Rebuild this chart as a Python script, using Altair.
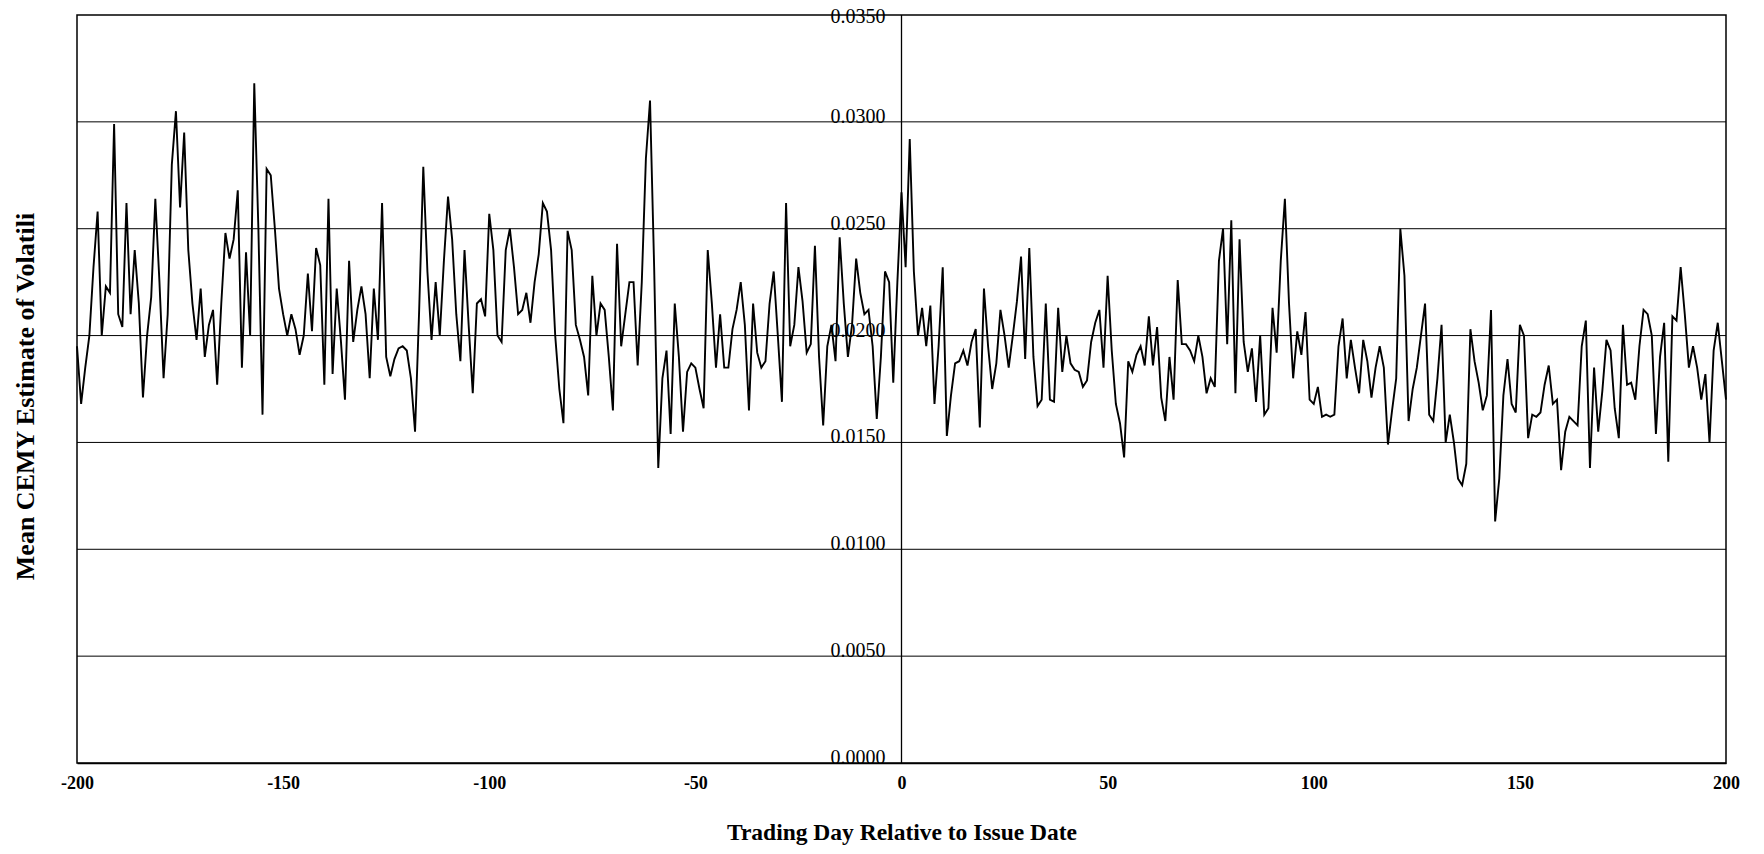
import altair as alt
import pandas as pd

# Mean CEMY volatility estimate, trading days -200..-1 (pre-issue)
pre_issue = [
    0.0195, 0.0168, 0.0185, 0.0200, 0.0232, 0.0258, 0.0200, 0.0223, 0.0220, 0.0299,
    0.0210, 0.0204, 0.0262, 0.0210, 0.0240, 0.0215, 0.0171, 0.0200, 0.0218, 0.0264,
    0.0225, 0.0180, 0.0210, 0.0280, 0.0305, 0.0260, 0.0295, 0.0240, 0.0215, 0.0198,
    0.0222, 0.0190, 0.0205, 0.0212, 0.0177, 0.0215, 0.0248, 0.0236, 0.0245, 0.0268,
    0.0185, 0.0239, 0.0200, 0.0318, 0.0250, 0.0163, 0.0278, 0.0275, 0.0250, 0.0222,
    0.0210, 0.0200, 0.0210, 0.0203, 0.0191, 0.0200, 0.0229, 0.0202, 0.0241, 0.0233,
    0.0177, 0.0264, 0.0182, 0.0222, 0.0198, 0.0170, 0.0235, 0.0197, 0.0212, 0.0223,
    0.0210, 0.0180, 0.0222, 0.0198, 0.0262, 0.0190, 0.0181, 0.0189, 0.0194, 0.0195,
    0.0193, 0.0180, 0.0155, 0.0212, 0.0279, 0.0230, 0.0198, 0.0225, 0.0200, 0.0235,
    0.0265, 0.0245, 0.0210, 0.0188, 0.0240, 0.0205, 0.0173, 0.0215, 0.0217, 0.0209,
    0.0257, 0.0240, 0.0200, 0.0197, 0.0240, 0.0250, 0.0232, 0.0210, 0.0212, 0.0220,
    0.0206, 0.0225, 0.0238, 0.0262, 0.0258, 0.0240, 0.0200, 0.0175, 0.0159, 0.0249,
    0.0240, 0.0205, 0.0198, 0.0190, 0.0172, 0.0228, 0.0200, 0.0215, 0.0212, 0.0190,
    0.0165, 0.0243, 0.0195, 0.0210, 0.0225, 0.0225, 0.0186, 0.0225, 0.0283, 0.0310,
    0.0232, 0.0138, 0.0180, 0.0193, 0.0154, 0.0215, 0.0190, 0.0155, 0.0183, 0.0187,
    0.0185, 0.0175, 0.0166, 0.0240, 0.0215, 0.0185, 0.0210, 0.0185, 0.0185, 0.0203,
    0.0212, 0.0225, 0.0205, 0.0165, 0.0215, 0.0192, 0.0185, 0.0188, 0.0215, 0.0230,
    0.0200, 0.0169, 0.0262, 0.0195, 0.0205, 0.0232, 0.0216, 0.0192, 0.0196, 0.0242,
    0.0190, 0.0158, 0.0195, 0.0205, 0.0188, 0.0246, 0.0215, 0.0190, 0.0205, 0.0236,
    0.0220, 0.0210, 0.0212, 0.0195, 0.0161, 0.0190, 0.0230, 0.0225, 0.0178, 0.0225,
]

# Trading days 0..200 (issue date onward)
post_issue = [
    0.0267, 0.0232, 0.0292, 0.0230, 0.0200, 0.0213, 0.0195, 0.0214, 0.0168, 0.0195,
    0.0232, 0.0153, 0.0172, 0.0187, 0.0188, 0.0193, 0.0186, 0.0197, 0.0203, 0.0157,
    0.0222, 0.0195, 0.0175, 0.0187, 0.0212, 0.0200, 0.0185, 0.0200, 0.0216, 0.0237,
    0.0189, 0.0241, 0.0190, 0.0167, 0.0170, 0.0215, 0.0170, 0.0169, 0.0213, 0.0183,
    0.0200, 0.0187, 0.0184, 0.0183, 0.0176, 0.0179, 0.0197, 0.0206, 0.0212, 0.0185,
    0.0228, 0.0193, 0.0168, 0.0159, 0.0143, 0.0188, 0.0183, 0.0191, 0.0195, 0.0186,
    0.0209, 0.0186, 0.0204, 0.0171, 0.0160, 0.0190, 0.0170, 0.0226, 0.0196, 0.0196,
    0.0193, 0.0188, 0.0200, 0.0190, 0.0173, 0.0180, 0.0176, 0.0235, 0.0250, 0.0196,
    0.0254, 0.0173, 0.0245, 0.0197, 0.0183, 0.0194, 0.0169, 0.0200, 0.0163, 0.0166,
    0.0213, 0.0192, 0.0235, 0.0264, 0.0215, 0.0180, 0.0202, 0.0191, 0.0211, 0.0170,
    0.0168, 0.0176, 0.0162, 0.0163, 0.0162, 0.0163, 0.0195, 0.0208, 0.0180, 0.0198,
    0.0185, 0.0173, 0.0198, 0.0188, 0.0171, 0.0185, 0.0195, 0.0185, 0.0149, 0.0165,
    0.0180, 0.0250, 0.0228, 0.0160, 0.0175, 0.0185, 0.0200, 0.0215, 0.0163, 0.0160,
    0.0180, 0.0205, 0.0150, 0.0163, 0.0150, 0.0133, 0.0130, 0.0140, 0.0203, 0.0188,
    0.0178, 0.0165, 0.0172, 0.0212, 0.0113, 0.0133, 0.0172, 0.0189, 0.0168, 0.0164,
    0.0205, 0.0200, 0.0152, 0.0163, 0.0162, 0.0164, 0.0177, 0.0186, 0.0168, 0.0170,
    0.0137, 0.0155, 0.0162, 0.0160, 0.0158, 0.0195, 0.0207, 0.0138, 0.0185, 0.0155,
    0.0174, 0.0198, 0.0193, 0.0166, 0.0152, 0.0205, 0.0177, 0.0178, 0.0170, 0.0195,
    0.0212, 0.0210, 0.0200, 0.0154, 0.0190, 0.0206, 0.0141, 0.0209, 0.0207, 0.0232,
    0.0210, 0.0185, 0.0195, 0.0185, 0.0170, 0.0182, 0.0150, 0.0193, 0.0206, 0.0188,
    0.0170,
]

grid_values = [0.005, 0.010, 0.015, 0.020, 0.025, 0.030]
y_ticks = [0.0, 0.005, 0.010, 0.015, 0.020, 0.025, 0.030, 0.035]
y_tick_labels = ["0.0000", "0.0050", "0.0100", "0.0150", "0.0200", "0.0250", "0.0300", "0.0350"]
x_ticks = [-200, -150, -100, -50, 0, 50, 100, 150, 200]

values = pre_issue + post_issue
days = list(range(-200, -200 + len(values)))
df = pd.DataFrame({"day": days, "v": values})
grid_df = pd.DataFrame({"g": grid_values})
ylab_df = pd.DataFrame({"x0": [0] * len(y_ticks), "y": y_ticks, "lab": y_tick_labels})
zero_df = pd.DataFrame({"z": [0]})

W, H = 1649, 748
FONT = "Liberation Serif"

yscale = alt.Scale(domain=[0, 0.035], nice=False, zero=False)
xscale = alt.Scale(domain=[-200, 200], nice=False, zero=False)

x_axis = alt.Axis(
    title="Trading Day Relative to Issue Date",
    values=x_ticks,
    labelExpr="datum.value < 0 ? '-' + abs(datum.value) : '' + datum.value",
    ticks=False,
    grid=False,
    domainColor="black",
    domainWidth=1.5,
    labelFont=FONT,
    labelFontSize=18,
    labelFontWeight="bold",
    labelColor="black",
    labelPadding=11,
    labelFlush=False,
    labelOverlap=False,
    titleFont=FONT,
    titleFontSize=23.5,
    titleFontWeight="bold",
    titleColor="black",
    titlePadding=28,
)

y_axis = alt.Axis(
    title="Mean CEMY Estimate of Volatili",
    labels=False,
    ticks=False,
    grid=False,
    domain=False,
    titleFont=FONT,
    titleFontSize=26,
    titleFontWeight="bold",
    titleColor="black",
    titleAngle=270,
    titleX=-52,
    titleY=381,
    titleAlign="center",
    titleBaseline="middle",
)

line = alt.Chart(df).mark_line(color="black", strokeWidth=1.9).encode(
    x=alt.X("day:Q", scale=xscale, axis=x_axis),
    y=alt.Y("v:Q", scale=yscale, axis=y_axis),
)

grid = alt.Chart(grid_df).mark_rule(color="black", strokeWidth=1).encode(
    y=alt.Y("g:Q", scale=yscale, axis=y_axis)
)

zero_line = alt.Chart(zero_df).mark_rule(color="black", strokeWidth=1.3).encode(
    x=alt.X("z:Q", scale=xscale, axis=x_axis)
)

ylabels_low = alt.Chart(ylab_df).transform_filter("datum.y < 0.034").mark_text(
    font=FONT, fontSize=20, color="black", align="right", baseline="alphabetic", dx=-16, dy=1
).encode(
    x=alt.X("x0:Q", scale=xscale, axis=x_axis),
    y=alt.Y("y:Q", scale=yscale, axis=y_axis),
    text="lab:N",
)

ylabels_top = alt.Chart(ylab_df).transform_filter("datum.y > 0.034").mark_text(
    font=FONT, fontSize=20, color="black", align="right", baseline="alphabetic", dx=-16, dy=8
).encode(
    x=alt.X("x0:Q", scale=xscale, axis=x_axis),
    y=alt.Y("y:Q", scale=yscale, axis=y_axis),
    text="lab:N",
)

chart = (
    alt.layer(grid, zero_line, ylabels_low, ylabels_top, line)
    .properties(
        width=W,
        height=H,
        background="white",
        autosize=alt.AutoSizeParams(type="none"),
        padding={"left": 69, "top": 7, "right": 20, "bottom": 90},
    )
    .configure_view(stroke="black", strokeWidth=1.5)
)

chart.save("out.html", embed_options={"renderer": "svg", "actions": False})
